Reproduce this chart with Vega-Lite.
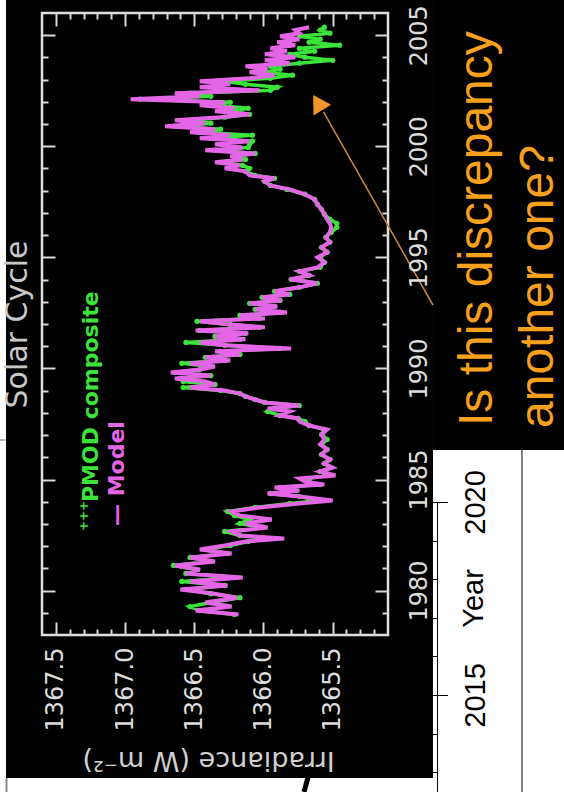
{
"$schema": "https://vega.github.io/schema/vega-lite/v6.json",
"width": 564, "height": 792, "autosize": "none", "padding": 0,
"background": "white",
"config": {"view": {"stroke": null}},
"datasets": {"solar": [
{"year":1978.92,"model":1366.18,"pmod":1366.21},{"year":1979.10,"model":1366.49,"pmod":1366.46},{"year":1979.28,"model":1366.23,"pmod":1366.53},{"year":1979.46,"model":1366.42,"pmod":1366.38},{"year":1979.68,"model":1366.19,"pmod":1366.17},{"year":1979.86,"model":1366.35,"pmod":1366.38},{"year":1980.05,"model":1366.60,"pmod":1366.56},{"year":1980.23,"model":1366.26,"pmod":1366.28},{"year":1980.41,"model":1366.53,"pmod":1366.59},{"year":1980.59,"model":1366.15,"pmod":1366.21},{"year":1980.77,"model":1366.56,"pmod":1366.56},{"year":1980.95,"model":1366.46,"pmod":1366.49},{"year":1981.13,"model":1366.64,"pmod":1366.65},{"year":1981.31,"model":1366.35,"pmod":1366.38},{"year":1981.49,"model":1366.53,"pmod":1366.53},{"year":1981.67,"model":1366.23,"pmod":1366.26},{"year":1981.85,"model":1366.46,"pmod":1366.42},{"year":1982.03,"model":1366.28,"pmod":1366.24},{"year":1982.21,"model":1366.13,"pmod":1366.11},{"year":1982.34,"model":1365.85,"pmod":1365.95},{"year":1982.48,"model":1366.17,"pmod":1366.17},{"year":1982.66,"model":1366.23,"pmod":1366.28},{"year":1982.84,"model":1365.97,"pmod":1366.01},{"year":1983.02,"model":1366.13,"pmod":1366.17},{"year":1983.20,"model":1365.94,"pmod":1366.10},{"year":1983.38,"model":1366.17,"pmod":1366.21},{"year":1983.56,"model":1366.23,"pmod":1366.26},{"year":1983.74,"model":1366.03,"pmod":1366.06},{"year":1983.92,"model":1365.74,"pmod":1365.81},{"year":1984.05,"model":1365.50,"pmod":1365.59},{"year":1984.23,"model":1365.74,"pmod":1365.74},{"year":1984.37,"model":1365.97,"pmod":1365.95},{"year":1984.50,"model":1365.74,"pmod":1365.77},{"year":1984.64,"model":1365.92,"pmod":1365.88},{"year":1984.77,"model":1365.56,"pmod":1365.59},{"year":1984.91,"model":1365.70,"pmod":1365.67},{"year":1985.05,"model":1365.74,"pmod":1365.67},{"year":1985.18,"model":1365.48,"pmod":1365.54},{"year":1985.36,"model":1365.59,"pmod":1365.59},{"year":1985.54,"model":1365.50,"pmod":1365.52},{"year":1985.72,"model":1365.56,"pmod":1365.56},{"year":1985.90,"model":1365.52,"pmod":1365.52},{"year":1986.13,"model":1365.58,"pmod":1365.58},{"year":1986.35,"model":1365.54,"pmod":1365.54},{"year":1986.58,"model":1365.59,"pmod":1365.58},{"year":1986.80,"model":1365.56,"pmod":1365.54},{"year":1987.03,"model":1365.58,"pmod":1365.58},{"year":1987.25,"model":1365.54,"pmod":1365.56},{"year":1987.43,"model":1365.67,"pmod":1365.67},{"year":1987.61,"model":1365.74,"pmod":1365.70},{"year":1987.75,"model":1365.75,"pmod":1365.75},{"year":1987.88,"model":1365.88,"pmod":1365.88},{"year":1988.06,"model":1365.81,"pmod":1365.97},{"year":1988.20,"model":1365.97,"pmod":1365.92},{"year":1988.33,"model":1365.74,"pmod":1365.74},{"year":1988.47,"model":1365.99,"pmod":1365.99},{"year":1988.60,"model":1366.06,"pmod":1366.06},{"year":1988.74,"model":1366.13,"pmod":1366.13},{"year":1988.87,"model":1366.17,"pmod":1366.17},{"year":1989.01,"model":1366.28,"pmod":1366.31},{"year":1989.14,"model":1366.53,"pmod":1366.58},{"year":1989.28,"model":1366.35,"pmod":1366.35},{"year":1989.41,"model":1366.42,"pmod":1366.58},{"year":1989.55,"model":1366.64,"pmod":1366.60},{"year":1989.68,"model":1366.38,"pmod":1366.38},{"year":1989.82,"model":1366.67,"pmod":1366.64},{"year":1989.95,"model":1366.46,"pmod":1366.46},{"year":1990.09,"model":1366.35,"pmod":1366.38},{"year":1990.23,"model":1366.53,"pmod":1366.59},{"year":1990.36,"model":1366.24,"pmod":1366.28},{"year":1990.50,"model":1366.42,"pmod":1366.42},{"year":1990.63,"model":1366.17,"pmod":1366.17},{"year":1990.77,"model":1366.35,"pmod":1366.31},{"year":1990.90,"model":1365.80,"pmod":1365.88},{"year":1991.04,"model":1366.28,"pmod":1366.28},{"year":1991.17,"model":1366.46,"pmod":1366.56},{"year":1991.31,"model":1366.13,"pmod":1366.17},{"year":1991.44,"model":1366.35,"pmod":1366.35},{"year":1991.58,"model":1366.11,"pmod":1366.13},{"year":1991.71,"model":1366.49,"pmod":1366.46},{"year":1991.85,"model":1365.99,"pmod":1366.03},{"year":1991.98,"model":1366.24,"pmod":1366.24},{"year":1992.12,"model":1366.46,"pmod":1366.48},{"year":1992.25,"model":1365.99,"pmod":1366.03},{"year":1992.39,"model":1366.17,"pmod":1366.17},{"year":1992.52,"model":1365.83,"pmod":1365.88},{"year":1992.66,"model":1366.06,"pmod":1366.06},{"year":1992.79,"model":1365.90,"pmod":1365.92},{"year":1992.93,"model":1366.10,"pmod":1366.10},{"year":1993.06,"model":1365.87,"pmod":1365.88},{"year":1993.20,"model":1366.01,"pmod":1366.01},{"year":1993.33,"model":1365.81,"pmod":1365.81},{"year":1993.47,"model":1365.92,"pmod":1365.92},{"year":1993.65,"model":1365.74,"pmod":1365.74},{"year":1993.83,"model":1365.61,"pmod":1365.61},{"year":1994.01,"model":1365.81,"pmod":1365.80},{"year":1994.19,"model":1365.67,"pmod":1365.67},{"year":1994.37,"model":1365.74,"pmod":1365.74},{"year":1994.55,"model":1365.61,"pmod":1365.59},{"year":1994.77,"model":1365.56,"pmod":1365.56},{"year":1995.00,"model":1365.61,"pmod":1365.59},{"year":1995.23,"model":1365.54,"pmod":1365.54},{"year":1995.45,"model":1365.58,"pmod":1365.58},{"year":1995.68,"model":1365.52,"pmod":1365.52},{"year":1995.90,"model":1365.55,"pmod":1365.55},{"year":1996.13,"model":1365.52,"pmod":1365.51},{"year":1996.35,"model":1365.51,"pmod":1365.47},{"year":1996.53,"model":1365.52,"pmod":1365.47},{"year":1996.71,"model":1365.54,"pmod":1365.52},{"year":1996.94,"model":1365.56,"pmod":1365.56},{"year":1997.16,"model":1365.58,"pmod":1365.58},{"year":1997.39,"model":1365.61,"pmod":1365.61},{"year":1997.61,"model":1365.63,"pmod":1365.63},{"year":1997.84,"model":1365.70,"pmod":1365.70},{"year":1998.06,"model":1365.81,"pmod":1365.83},{"year":1998.24,"model":1365.95,"pmod":1365.95},{"year":1998.42,"model":1365.99,"pmod":1365.99},{"year":1998.56,"model":1365.92,"pmod":1365.92},{"year":1998.69,"model":1366.10,"pmod":1366.06},{"year":1998.87,"model":1366.13,"pmod":1366.13},{"year":1999.01,"model":1366.28,"pmod":1366.10},{"year":1999.14,"model":1366.17,"pmod":1366.15},{"year":1999.28,"model":1366.35,"pmod":1366.28},{"year":1999.41,"model":1366.15,"pmod":1366.13},{"year":1999.55,"model":1366.24,"pmod":1366.21},{"year":1999.68,"model":1366.06,"pmod":1366.06},{"year":1999.82,"model":1366.42,"pmod":1366.35},{"year":1999.95,"model":1366.15,"pmod":1366.11},{"year":2000.09,"model":1366.35,"pmod":1366.10},{"year":2000.23,"model":1366.10,"pmod":1366.08},{"year":2000.36,"model":1366.46,"pmod":1366.38},{"year":2000.50,"model":1366.24,"pmod":1366.08},{"year":2000.63,"model":1366.53,"pmod":1366.46},{"year":2000.77,"model":1366.35,"pmod":1366.31},{"year":2000.90,"model":1366.71,"pmod":1366.64},{"year":2001.04,"model":1366.42,"pmod":1366.38},{"year":2001.17,"model":1366.64,"pmod":1366.53},{"year":2001.31,"model":1366.31,"pmod":1366.28},{"year":2001.44,"model":1366.10,"pmod":1366.10},{"year":2001.58,"model":1366.35,"pmod":1366.24},{"year":2001.71,"model":1366.21,"pmod":1366.11},{"year":2001.85,"model":1366.46,"pmod":1366.35},{"year":2001.98,"model":1366.28,"pmod":1366.24},{"year":2002.12,"model":1366.96,"pmod":1366.89},{"year":2002.25,"model":1366.46,"pmod":1366.38},{"year":2002.39,"model":1366.64,"pmod":1366.53},{"year":2002.52,"model":1366.03,"pmod":1365.95},{"year":2002.66,"model":1366.46,"pmod":1365.90},{"year":2002.79,"model":1366.24,"pmod":1366.13},{"year":2002.93,"model":1366.46,"pmod":1366.28},{"year":2003.06,"model":1366.10,"pmod":1365.95},{"year":2003.20,"model":1365.92,"pmod":1365.79},{"year":2003.33,"model":1366.10,"pmod":1365.99},{"year":2003.47,"model":1365.97,"pmod":1365.88},{"year":2003.60,"model":1366.13,"pmod":1365.95},{"year":2003.74,"model":1365.81,"pmod":1365.74},{"year":2003.87,"model":1365.99,"pmod":1365.50},{"year":2004.01,"model":1365.77,"pmod":1365.70},{"year":2004.14,"model":1365.99,"pmod":1365.81},{"year":2004.28,"model":1365.83,"pmod":1365.63},{"year":2004.41,"model":1365.95,"pmod":1365.74},{"year":2004.55,"model":1365.77,"pmod":1365.45},{"year":2004.68,"model":1365.90,"pmod":1365.67},{"year":2004.82,"model":1365.74,"pmod":1365.59},{"year":2004.95,"model":1365.88,"pmod":1365.74},{"year":2005.09,"model":1365.74,"pmod":1365.52},{"year":2005.23,"model":1365.77,"pmod":1365.59},{"year":2005.36,"model":1365.67,"pmod":1365.56}
]},
"resolve": {"scale": {"y": "independent"}, "axis": {"x": "independent", "y": "independent"}},
"layer": [
{
"resolve": {"axis": {"x": "independent", "y": "independent"}},
"layer": [
{"data": {"values": [{}]}, "mark": {"type": "rule", "color": "#000000", "strokeWidth": 1},
 "encoding": {"x": {"datum": 1364.132, "type": "quantitative", "scale": {"domain": [1363.82832, 1367.90347], "reverse": true, "nice": false, "zero": false}, "axis": null},
  "y": {"datum": 1986.328, "type": "quantitative", "scale": {"domain": [1970.9325, 2006.5852], "nice": false, "zero": false}, "axis": null}, "y2": {"datum": 1970.9325}}},
{"data": {"values": [{}]}, "mark": {"type": "rule", "color": "#000000", "strokeWidth": 5},
 "encoding": {"x": {"datum": 1365.6636, "type": "quantitative", "scale": {"domain": [1363.82832, 1367.90347], "reverse": true, "nice": false, "zero": false}, "axis": null}, "x2": {"datum": 1365.7069},
  "y": {"datum": 1971.9228, "type": "quantitative", "scale": {"domain": [1970.9325, 2006.5852], "nice": false, "zero": false}, "axis": null}, "y2": {"datum": 1970.9325}}},
{"data": {"values": [{}]}, "mark": {"type": "rule", "color": "#777777", "strokeWidth": 1},
 "encoding": {"x": {"datum": 1367.9035, "type": "quantitative", "scale": {"domain": [1363.82832, 1367.90347], "reverse": true, "nice": false, "zero": false}, "axis": null}, "x2": {"datum": 1367.86},
  "y": {"datum": 1986.778, "type": "quantitative", "scale": {"domain": [1970.9325, 2006.5852], "nice": false, "zero": false}, "axis": null}}},
{"data": {"values": [{}]}, "mark": {"type": "rule", "color": "#888888", "strokeWidth": 2},
 "encoding": {"x": {"datum": 1367.8565, "type": "quantitative", "scale": {"domain": [1363.82832, 1367.90347], "reverse": true, "nice": false, "zero": false}, "axis": null},
  "y": {"datum": 1971.5627, "type": "quantitative", "scale": {"domain": [1970.9325, 2006.5852], "nice": false, "zero": false}, "axis": null}, "y2": {"datum": 1970.9325}}},
{"data": {"values": [{}]}, "mark": {"type": "rect", "color": "#000000"},
 "encoding": {"x": {"datum": 1367.86, "type": "quantitative", "scale": {"domain": [1363.82832, 1367.90347], "reverse": true, "nice": false, "zero": false}, "axis": null}, "x2": {"datum": 1364.775},
  "y": {"datum": 2006.5852, "type": "quantitative", "scale": {"domain": [1970.9325, 2006.5852], "nice": false, "zero": false}, "axis": null}, "y2": {"datum": 1971.5627}}},
{"data": {"values": [{}]}, "mark": {"type": "rect", "color": "#000000"},
 "encoding": {"x": {"datum": 1364.775, "type": "quantitative", "scale": {"domain": [1363.82832, 1367.90347], "reverse": true, "nice": false, "zero": false}, "axis": null}, "x2": {"datum": 1363.82832},
  "y": {"datum": 2006.5852, "type": "quantitative", "scale": {"domain": [1970.9325, 2006.5852], "nice": false, "zero": false}, "axis": null}, "y2": {"datum": 1986.328}}},
{"data": {"values": [{}]}, "mark": {"type": "rect", "filled": false, "stroke": "#e0e0e0", "strokeWidth": 2.5},
 "encoding": {"x": {"datum": 1365.1, "type": "quantitative", "scale": {"domain": [1363.82832, 1367.90347], "reverse": true, "nice": false, "zero": false},
   "axis": {"orient": "top", "offset": -13, "values": [1365.2,1365.3,1365.4,1365.6,1365.7,1365.8,1365.9,1366.1,1366.2,1366.3,1366.4,1366.6,1366.7,1366.8,1366.9,1367.1,1367.2,1367.3,1367.4], "tickSize": -6, "tickWidth": 2, "tickColor": "#d8d8d8", "labels": false, "domain": false, "grid": false, "title": null, "zindex": 1}},
  "x2": {"datum": 1367.6},
  "y": {"datum": 1978, "type": "quantitative", "scale": {"domain": [1970.9325, 2006.5852], "nice": false, "zero": false},
   "axis": {"orient": "left", "offset": -42, "values": [1979,1981,1982,1983,1984,1986,1987,1988,1989,1991,1992,1993,1994,1996,1997,1998,1999,2001,2002,2003,2004], "tickSize": -6, "tickWidth": 2, "tickColor": "#d8d8d8", "labels": false, "domain": false, "grid": false, "title": null, "zindex": 1}},
  "y2": {"datum": 2006}}},
{"data": {"name": "solar"}, "mark": {"type": "line", "color": "#3be33b", "strokeWidth": 3.5},
 "encoding": {"x": {"field": "pmod", "type": "quantitative", "scale": {"domain": [1363.82832, 1367.90347], "reverse": true, "nice": false, "zero": false},
   "axis": {"orient": "bottom", "offset": -157, "values": [1365.5,1366,1366.5,1367,1367.5], "format": ".1f", "tickSize": -13, "tickWidth": 2, "tickColor": "#d8d8d8", "domain": false, "grid": false,
    "labelAngle": 270, "labelAlign": "right", "labelBaseline": "middle", "labelPadding": 25, "labelFont": "DejaVu Sans", "labelFontSize": 24, "labelColor": "#dcdcdc", "labelOverlap": false, "labelFlush": false, "labelBound": false,
    "title": "Irradiance (W m⁻²)", "titleFont": "DejaVu Sans", "titleFontSize": 27, "titleFontWeight": "normal", "titleColor": "#d0d0d0", "titleAngle": 180, "titleX": 208, "titleY": 124, "titleAlign": "center", "titleBaseline": "middle", "zindex": 1}},
  "y": {"field": "year", "type": "quantitative", "scale": {"domain": [1970.9325, 2006.5852], "nice": false, "zero": false},
   "axis": {"orient": "right", "offset": -176, "values": [1980,1985,1990,1995,2000,2005], "format": "d", "tickSize": -13, "tickWidth": 2, "tickColor": "#d8d8d8", "domain": false, "grid": false,
    "labelAngle": 270, "labelAlign": "center", "labelBaseline": "top", "labelPadding": 32, "labelFont": "DejaVu Sans", "labelFontSize": 24, "labelColor": "#dcdcdc", "labelOverlap": false, "labelFlush": false, "labelBound": false, "title": null, "zindex": 1}},
  "order": {"field": "year", "type": "quantitative"}}},
{"data": {"name": "solar"}, "mark": {"type": "point", "shape": "circle", "filled": true, "color": "#3be33b", "size": 28, "opacity": 1},
 "encoding": {"x": {"field": "pmod", "type": "quantitative", "scale": {"domain": [1363.82832, 1367.90347], "reverse": true, "nice": false, "zero": false},
   "axis": {"orient": "bottom", "offset": -157, "values": [1365.2,1365.3,1365.4,1365.6,1365.7,1365.8,1365.9,1366.1,1366.2,1366.3,1366.4,1366.6,1366.7,1366.8,1366.9,1367.1,1367.2,1367.3,1367.4], "tickSize": -6, "tickWidth": 2, "tickColor": "#d8d8d8", "labels": false, "domain": false, "grid": false, "title": null, "zindex": 1}},
  "y": {"field": "year", "type": "quantitative", "scale": {"domain": [1970.9325, 2006.5852], "nice": false, "zero": false},
   "axis": {"orient": "right", "offset": -176, "values": [1979,1981,1982,1983,1984,1986,1987,1988,1989,1991,1992,1993,1994,1996,1997,1998,1999,2001,2002,2003,2004], "tickSize": -6, "tickWidth": 2, "tickColor": "#d8d8d8", "labels": false, "domain": false, "grid": false, "title": null, "zindex": 1}}}},
{"data": {"name": "solar"}, "mark": {"type": "line", "color": "#e466e6", "strokeWidth": 4},
 "encoding": {"x": {"field": "model", "type": "quantitative", "scale": {"domain": [1363.82832, 1367.90347], "reverse": true, "nice": false, "zero": false},
   "axis": {"orient": "top", "offset": -13, "values": [1365.5,1366,1366.5,1367,1367.5], "tickSize": -13, "tickWidth": 2, "tickColor": "#d8d8d8", "labels": false, "domain": false, "grid": false, "title": null, "zindex": 1}},
  "y": {"field": "year", "type": "quantitative", "scale": {"domain": [1970.9325, 2006.5852], "nice": false, "zero": false},
   "axis": {"orient": "left", "offset": -42, "values": [1980,1985,1990,1995,2000,2005], "tickSize": -13, "tickWidth": 2, "tickColor": "#d8d8d8", "labels": false, "domain": false, "grid": false,
    "title": "Solar Cycle", "titleFont": "DejaVu Sans", "titleFontSize": 30, "titleFontWeight": "normal", "titleColor": "#c8c8c8", "titleAngle": 270, "titleX": -25, "titleY": 324, "titleAlign": "center", "titleBaseline": "middle", "zindex": 1}},
  "order": {"field": "year", "type": "quantitative"}}},
{"data": {"values": [{}]}, "mark": {"type": "text", "text": "+++", "angle": 270, "align": "left", "baseline": "middle", "font": "DejaVu Sans", "fontSize": 12, "fontWeight": "bold", "color": "#3be33b"},
 "encoding": {"x": {"datum": 1367.2965, "type": "quantitative", "scale": {"domain": [1363.82832, 1367.90347], "reverse": true, "nice": false, "zero": false}, "axis": null},
  "y": {"datum": 1982.682, "type": "quantitative", "scale": {"domain": [1970.9325, 2006.5852], "nice": false, "zero": false}, "axis": null}}},
{"data": {"values": [{}]}, "mark": {"type": "text", "text": "PMOD composite", "angle": 270, "align": "left", "baseline": "alphabetic", "font": "DejaVu Sans", "fontSize": 22, "fontWeight": "bold", "color": "#3be33b"},
 "encoding": {"x": {"datum": 1367.1954, "type": "quantitative", "scale": {"domain": [1363.82832, 1367.90347], "reverse": true, "nice": false, "zero": false}, "axis": null},
  "y": {"datum": 1983.987, "type": "quantitative", "scale": {"domain": [1970.9325, 2006.5852], "nice": false, "zero": false}, "axis": null}}},
{"data": {"values": [{}]}, "mark": {"type": "text", "text": "— Model", "angle": 270, "align": "left", "baseline": "alphabetic", "font": "DejaVu Sans", "fontSize": 22, "fontWeight": "bold", "color": "#e466e6"},
 "encoding": {"x": {"datum": 1367.0075, "type": "quantitative", "scale": {"domain": [1363.82832, 1367.90347], "reverse": true, "nice": false, "zero": false}, "axis": null},
  "y": {"datum": 1982.907, "type": "quantitative", "scale": {"domain": [1970.9325, 2006.5852], "nice": false, "zero": false}, "axis": null}}},
{"data": {"values": [{}]}, "mark": {"type": "rule", "color": "#d08840", "strokeWidth": 1.5},
 "encoding": {"x": {"datum": 1365.566, "type": "quantitative", "scale": {"domain": [1363.82832, 1367.90347], "reverse": true, "nice": false, "zero": false}, "axis": null}, "x2": {"datum": 1364.775},
  "y": {"datum": 2001.544, "type": "quantitative", "scale": {"domain": [1970.9325, 2006.5852], "nice": false, "zero": false}, "axis": null}, "y2": {"datum": 1992.855}}},
{"data": {"values": [{}]}, "mark": {"type": "point", "shape": "triangle-up", "filled": true, "color": "#f0962a", "opacity": 1, "size": 420, "angle": 329},
 "encoding": {"x": {"datum": 1365.6076, "type": "quantitative", "scale": {"domain": [1363.82832, 1367.90347], "reverse": true, "nice": false, "zero": false}, "axis": null},
  "y": {"datum": 2001.971, "type": "quantitative", "scale": {"domain": [1970.9325, 2006.5852], "nice": false, "zero": false}, "axis": null}}},
{"data": {"values": [{}]}, "mark": {"type": "text", "text": "Is this discrepancy", "angle": 270, "align": "left", "baseline": "alphabetic", "font": "Liberation Sans", "fontSize": 48, "color": "#f7a01c"},
 "encoding": {"x": {"datum": 1364.349, "type": "quantitative", "scale": {"domain": [1363.82832, 1367.90347], "reverse": true, "nice": false, "zero": false}, "axis": null},
  "y": {"datum": 1987.408, "type": "quantitative", "scale": {"domain": [1970.9325, 2006.5852], "nice": false, "zero": false}, "axis": null}}},
{"data": {"values": [{}]}, "mark": {"type": "text", "text": "another one?", "angle": 270, "align": "left", "baseline": "alphabetic", "font": "Liberation Sans", "fontSize": 48, "color": "#f7a01c"},
 "encoding": {"x": {"datum": 1363.908, "type": "quantitative", "scale": {"domain": [1363.82832, 1367.90347], "reverse": true, "nice": false, "zero": false}, "axis": null},
  "y": {"datum": 1987.318, "type": "quantitative", "scale": {"domain": [1970.9325, 2006.5852], "nice": false, "zero": false}, "axis": null}}}
]
},
{"data": {"values": [{}]}, "mark": {"type": "rule", "color": "#000000", "strokeWidth": 1},
 "encoding": {"x": {"datum": 1364.742, "type": "quantitative", "scale": {"domain": [1363.82832, 1367.90347], "reverse": true, "nice": false, "zero": false}, "axis": null},
  "y": {"datum": 2020, "type": "quantitative", "scale": {"domain": [2012.487, 2033.005], "nice": false, "zero": false},
   "axis": {"orient": "right", "offset": -126.5, "values": [2015, 2020], "format": "d", "tickSize": 10, "tickWidth": 1, "tickColor": "#000000", "domain": false, "grid": false,
    "labelAngle": 270, "labelAlign": "center", "labelBaseline": "top", "labelPadding": 14, "labelFont": "Liberation Sans", "labelFontSize": 29, "labelColor": "#000000", "labelOverlap": false, "labelFlush": false, "labelBound": false,
    "title": "Year", "titleFont": "Liberation Sans", "titleFontSize": 29, "titleFontWeight": "normal", "titleColor": "#000000", "titleAngle": 270, "titleX": 35.5, "titleY": 598, "titleAlign": "center", "titleBaseline": "middle", "zindex": 0}},
  "y2": {"datum": 2012.487}}},
{"data": {"values": [{}]}, "mark": {"type": "rule", "color": "#000000", "strokeWidth": 1, "opacity": 0},
 "encoding": {"x": {"datum": 1364.742, "type": "quantitative", "scale": {"domain": [1363.82832, 1367.90347], "reverse": true, "nice": false, "zero": false}, "axis": null},
  "y": {"datum": 2020, "type": "quantitative", "scale": {"domain": [2012.487, 2033.005], "nice": false, "zero": false},
   "axis": {"orient": "left", "offset": -437.5, "values": [2013,2014,2015,2016,2017,2018,2019,2020], "tickSize": 6, "tickWidth": 1, "tickColor": "#000000", "labels": false, "domain": false, "grid": false, "title": null, "zindex": 0}},
  "y2": {"datum": 2012.487}}}
]
}
